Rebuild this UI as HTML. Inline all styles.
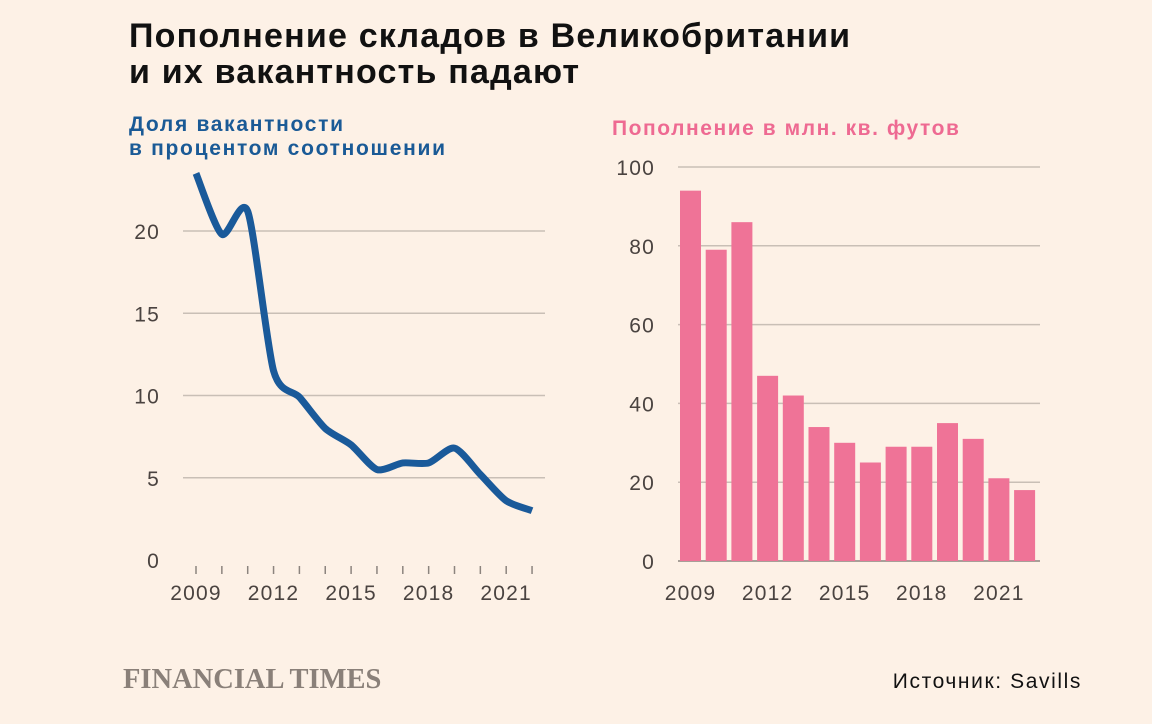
<!DOCTYPE html>
<html><head><meta charset="utf-8"><style>
body{margin:0;background:#fdf1e6;width:1152px;height:724px;overflow:hidden;font-family:"Liberation Sans","DejaVu Sans",sans-serif}
svg{position:absolute;left:0;top:0}
</style></head><body>
<svg width="1152" height="724">
<text x="129" y="47" font-size="34" font-weight="bold" letter-spacing="1.2" fill="#111">Пополнение складов в Великобритании</text>
<text x="129" y="83" font-size="34" font-weight="bold" letter-spacing="1.2" fill="#111">и их вакантность падают</text>
<text x="129" y="131" font-size="21" font-weight="bold" letter-spacing="1.7" fill="#1a5a96">Доля вакантности</text>
<text x="129" y="155" font-size="21" font-weight="bold" letter-spacing="1.7" fill="#1a5a96">в процентом соотношении</text>
<text x="612" y="135" font-size="21" font-weight="bold" letter-spacing="1.55" fill="#ee6a92">Пополнение в млн. кв. футов</text>
<g id="left"></g>
<g id="right"></g>
<text x="123" y="688" font-size="28.5" font-weight="bold" font-family="Liberation Serif,serif" fill="#8a8079">FINANCIAL TIMES</text>
<text x="1082" y="688" font-size="21" letter-spacing="1.6" fill="#111" text-anchor="end">Источник: Savills</text>
</svg>
<script>
const years=[2009,2010,2011,2012,2013,2014,2015,2016,2017,2018,2019,2020,2021,2022];
const vacancy=[23.5,19.8,21.2,11.5,9.9,8.0,7.0,5.5,5.9,5.9,6.8,5.2,3.6,3.0];
const supply=[94,79,86,47,42,34,30,25,29,29,35,31,21,18];
const leftTicks=[0,5,10,15,20];
const rightTicks=[0,20,40,60,80,100];
const yearLabels=[2009,2012,2015,2018,2021];
const NS="http://www.w3.org/2000/svg";
function mk(p,t,a){const e=document.createElementNS(NS,t);for(const k in a)e.setAttribute(k,a[k]);p.appendChild(e);return e;}
const L=document.getElementById('left'),R=document.getElementById('right');
const lx=y=>196+(y-2009)*25.85, ly=v=>560-v*16.45;
const TS={'font-size':21,'letter-spacing':1.2,fill:'#4a4340'};
leftTicks.forEach(t=>{
 if(t>0){const g=mk(L,'line',{x1:183,x2:545,y1:ly(t),y2:ly(t),stroke:'#c9bfb6','stroke-width':1.5});
 }
 const tx=mk(L,'text',Object.assign({x:160,y:ly(t)+8,'text-anchor':'end'},TS));tx.textContent=t;
 
});
years.forEach(y=>{const t=mk(L,'line',{x1:lx(y),x2:lx(y),y1:566,y2:574,stroke:'#8c847e','stroke-width':1.5});
 });
yearLabels.forEach(y=>{const t=mk(L,'text',Object.assign({x:lx(y),y:600,'text-anchor':'middle'},TS));t.textContent=y;
 });
const pts=years.map((y,i)=>[lx(y),ly(vacancy[i])]);
let d='M'+pts[0][0]+','+pts[0][1];
for(let i=0;i<pts.length-1;i++){const p0=pts[i-1]||pts[i],p1=pts[i],p2=pts[i+1],p3=pts[i+2]||p2;
 d+=` C${p1[0]+(p2[0]-p0[0])/8},${p1[1]+(p2[1]-p0[1])/8} ${p2[0]-(p3[0]-p1[0])/8},${p2[1]-(p3[1]-p1[1])/8} ${p2[0]},${p2[1]}`;}
const path=mk(L,'path',{d:d,fill:'none',stroke:'#1a5a9a','stroke-width':7,'stroke-linecap':'butt','stroke-linejoin':'round'});

const rx=i=>680+i*25.7, ry=v=>561-v*3.94;
rightTicks.forEach(t=>{
 const g=mk(R,'line',{x1:678,x2:1040,y1:ry(t),y2:ry(t),stroke:t?'#c9bfb6':'#8c847e','stroke-width':1.5});
 
 const tx=mk(R,'text',Object.assign({x:655,y:ry(t)+8,'text-anchor':'end'},TS));tx.textContent=t;
 
});
supply.forEach((v,i)=>{const b=mk(R,'rect',{x:rx(i),y:ry(v),width:21,height:ry(0)-ry(v),fill:'#ef7397'});
 });
yearLabels.forEach(y=>{const t=mk(R,'text',Object.assign({x:rx(y-2009)+10.5,y:600,'text-anchor':'middle'},TS));t.textContent=y;
 });
</script>
</body></html>
